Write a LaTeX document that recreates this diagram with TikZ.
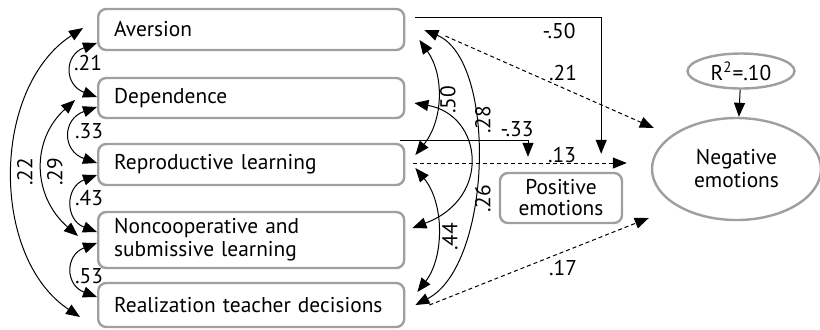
\documentclass[tikz,border=0pt]{standalone}
\usepackage{fontspec}
\setmainfont{PT Sans}
\usetikzlibrary{arrows.meta, positioning, calc, shapes.geometric}

\begin{document}
\begin{tikzpicture}[x=0.5pt, y=-0.5pt,
    box/.style={draw=gray!75, line width=1.2pt, rounded corners=4pt, align=left, anchor=west,
                text width=137pt, inner xsep=8pt, inner ysep=0pt, font=\fontsize{10.7}{11.5}\selectfont},
    pbox/.style={draw=gray!75, line width=1.2pt, rounded corners=4pt, align=center,
                 inner sep=0pt, font=\fontsize{10.7}{10.5}\selectfont},
    ell/.style={ellipse, draw=gray!75, line width=1.2pt, align=center, inner sep=0pt,
                font=\fontsize{10.7}{11.5}\selectfont},
    lab/.style={font=\fontsize{10.7}{11}\selectfont, inner sep=1pt},
    rlab/.style={lab, rotate=90},
    arr/.style={-{Triangle[length=7pt, width=5.5pt]}, line width=0.5pt},
    dbl/.style={{Triangle[length=7pt, width=5.5pt]}-{Triangle[length=7pt, width=5.5pt]}, line width=0.5pt},
    dsh/.style={arr, dash pattern=on 2pt off 1.5pt}]
  \useasboundingbox (0,0) rectangle (820,329);
  % predictors
  \node[box, minimum height=20.5pt] (aver) at (97,29.5) {Aversion};
  \node[box, minimum height=20pt] (dep) at (97,98) {Dependence};
  \node[box, minimum height=20.5pt] (repro) at (97,164.5) {Reproductive learning};
  \node[box, minimum height=28pt] (noncoop) at (97,240) {Noncooperative and\\ submissive learning};
  \node[box, minimum height=22pt] (realiz) at (97,305) {Realization teacher decisions};
  % outcomes
  \node[ell, minimum width=84.5pt, minimum height=51pt] (neg) at (736.5,169) {Negative\\ emotions};
  \node[ell, minimum width=53.5pt, minimum height=17.5pt] (r2) at (741,71) {R\textsuperscript{2}=.10};
  \node[pbox, minimum width=61pt, minimum height=25pt] (pos) at (561,198) {Positive\\ emotions};
  \draw[arr] (r2) -- (neg);

  % correlations, left side
  \draw[dbl] ($(aver.west)+(0,13.5)$) .. controls +(-33,12) and +(-33,-12) .. ($(dep.west)+(0,-1)$);
  \draw[dbl] ($(dep.west)+(0,9)$) .. controls +(-35,12) and +(-35,-12) .. ($(repro.west)+(0,-1.5)$);
  \draw[dbl] ($(repro.west)+(0,10.5)$) .. controls +(-32,12) and +(-32,-12) .. ($(noncoop.west)+(0,-8)$);
  \draw[dbl] ($(noncoop.west)+(0,3)$) .. controls +(-32,12) and +(-32,-12) .. ($(realiz.west)+(0,-8)$);
  \draw[dbl] ($(dep.west)+(-22,2)$) .. controls +(-44,40) and +(-46,-40) .. ($(noncoop.west)+(-19,-4)$);
  \draw[dbl] ($(aver.west)+(-14,-1.5)$) .. controls +(-92,60) and +(-90,-60) .. ($(realiz.west)+(-17,12)$);
  \node[lab] (c21) at (88,63) {.21};
  \node[lab] (c33) at (89,131) {.33};
  \node[lab] (c43) at (89,198) {.43};
  \node[lab] (c53) at (89,276) {.53};
  \node[rlab] (c29) at (55,172) {.29};
  \node[rlab] (c22) at (25,172) {.22};

  % correlations, right side
  \draw[dbl] ($(aver.east)+(14,10.5)$) .. controls +(25,35) and +(28,-35) .. ($(repro.east)+(10,-9.5)$);
  \draw[dbl] ($(aver.east)+(19,0.5)$) .. controls +(73,30) and +(77,-40) .. ($(realiz.east)+(10,0)$);
  \draw[dbl] ($(dep.east)+(9,5)$) .. controls +(68,12) and +(80,-30) .. ($(noncoop.east)+(7,-12)$);
  \draw[dbl] ($(repro.east)+(10,3.5)$) .. controls +(29,35) and +(27,-35) .. ($(realiz.east)+(12,-13)$);
  \node[rlab] (c50) at (448,100) {.50};
  \node[rlab] (c28) at (483,120) {.28};
  \node[rlab] (c26) at (483,199) {.26};
  \node[rlab] (c44) at (450,237) {.44};

  % paths
  \draw[arr] ($(aver.east)+(10,-12.5)$) -| ($(pos.north east)+(-22,-18)$);
  \draw[arr] ($(repro.north east)+(-5,-2)$) -| ($(pos.north)+(-33,-15)$);
  \draw[dsh] ($(aver.east)+(40,6.5)$) -- ($(neg.west)+(3,-41)$);
  \draw[dsh] ($(repro.east)+(8,-1.5)$) -- ($(neg.west)+(-24,-6)$);
  \draw[dsh] ($(realiz.east)+(24,0)$) -- ($(neg.west)+(-2,49)$);
  \node[lab] (p50) at (559,31) {-.50};
  \node[lab] (p21) at (563,73) {.21};
  \node[lab] (p33) at (517,129) {-.33};
  \node[lab] (p13) at (562,155) {.13};
  \node[lab] (p17) at (563,268) {.17};
\end{tikzpicture}
\end{document}
